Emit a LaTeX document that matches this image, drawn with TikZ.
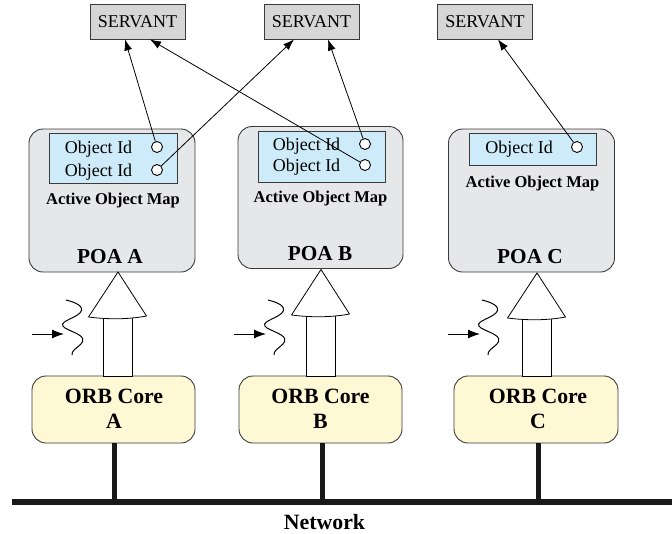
\documentclass[tikz,border=0pt]{standalone}
\usepackage{fontspec}
\setmainfont{Liberation Serif}
\usetikzlibrary{arrows.meta}

\definecolor{servantgray}{HTML}{D6D6D6}
\definecolor{poagray}{HTML}{E6E7E9}
\definecolor{mapblue}{HTML}{CDEBF8}
\definecolor{coreyellow}{HTML}{FFF8D4}
\definecolor{edgegray}{HTML}{3A3A3A}

\begin{document}
\begin{tikzpicture}[x=1pt, y=-1pt,
  servant/.style={draw=edgegray, fill=servantgray, line width=0.9pt,
    minimum width=95pt, minimum height=35pt, inner sep=0pt,
    font=\fontsize{18}{21}\selectfont},
  poa/.style={draw=edgegray, fill=poagray, line width=0.9pt, rounded corners=14pt,
    minimum width=166pt, minimum height=143pt, inner sep=0pt},
  objmap/.style={draw=edgegray, fill=mapblue, line width=1pt,
    minimum width=127pt, inner sep=0pt},
  orbcore/.style={draw=edgegray, fill=coreyellow, line width=0.9pt, rounded corners=14pt,
    minimum width=163pt, minimum height=67pt, inner sep=0pt},
  idtext/.style={anchor=base, inner sep=0pt, font=\fontsize{18}{21}\selectfont},
  maplabel/.style={anchor=base, inner sep=0pt, font=\bfseries\fontsize{16.5}{19}\selectfont},
  poalabel/.style={anchor=base, inner sep=0pt, font=\bfseries\fontsize{21.3}{24}\selectfont},
  corelabel/.style={anchor=base, inner sep=0pt, font=\bfseries\fontsize{21.8}{26}\selectfont},
  slot/.style={circle, draw=black, fill=white, line width=0.9pt,
    minimum size=11pt, inner sep=0pt},
  link/.style={line width=0.8pt, -{Latex[length=11pt,width=8pt]}},
  hollow/.style={draw=black, fill=white, line width=0.8pt},
  wire/.style={line width=5pt, draw=black!90},
  wavy/.style={line width=1pt},
  nudge/.style={line width=1pt, -{Latex[length=12pt,width=9pt]}}
]
\useasboundingbox (0,0) rectangle (672,533);

% servants
\node[servant] (s1) at (137.5,21.5) {SERVANT};
\node[servant] (s2) at (311.5,21.5) {SERVANT};
\node[servant] (s3) at (485,21.5) {SERVANT};

% POA containers
\node[poa] (poaA) at (112,200.5) {};
\node[poa, minimum height=142pt, minimum width=165pt] (poaB) at (320.5,197.5) {};
\node[poa] (poaC) at (531.5,200.5) {};

% active object maps
\node[objmap, minimum height=50pt, minimum width=128pt] (mapA) at (113,158) {};
\node[objmap, minimum height=51pt] (mapB) at (321.5,156.5) {};
\node[objmap, minimum height=32pt] (mapC) at (532.5,149) {};

\node[idtext] (idA1) at (98.5,153.5) {Object Id};
\node[idtext] (idA2) at (98.5,176.5) {Object Id};
\node[idtext] (idB1) at (306.5,150.5) {Object Id};
\node[idtext] (idB2) at (306.5,171.5) {Object Id};
\node[idtext] (idC1) at (519,153) {Object Id};

\node[slot] (cA1) at (157,147) {};
\node[slot] (cA2) at (157,170) {};
\node[slot] (cB1) at (365,144) {};
\node[slot] (cB2) at (365,165) {};
\node[slot] (cC1) at (577,147) {};

\node[maplabel] (amA) at (113,204.5) {Active Object Map};
\node[maplabel] (amB) at (320.5,202) {Active Object Map};
\node[maplabel] (amC) at (532.5,187.5) {Active Object Map};

\node[poalabel] (lA) at (110,263) {POA A};
\node[poalabel] (lB) at (320,260) {POA B};
\node[poalabel] (lC) at (530,263) {POA C};

% object id to servant links
\draw[link] (cA1) -- (s1.south -| 125,0);
\draw[link] (cB2) -- (s1.south -| 150,0);
\draw[link] (cA2) -- (s2.south -| 294,0);
\draw[link] (cB1) -- (s2.south -| 328,0);
\draw[link] (cC1) -- (s3.south -| 498,0);

% ORB cores
\node[orbcore] (coreA) at (113.5,409.5) {};
\node[orbcore] (coreB) at (320.5,409.5) {};
\node[orbcore, minimum width=164pt] (coreC) at (536,409.5) {};
\node[corelabel] (tA) at (114,403) {ORB Core};
\node[corelabel] (tA2) at (114,428) {A};
\node[corelabel] (tB) at (320.5,403) {ORB Core};
\node[corelabel] (tB2) at (320.5,428) {B};
\node[corelabel] (tC) at (538,403) {ORB Core};
\node[corelabel] (tC2) at (538,428) {C};

% hollow up arrows from cores to POAs
\foreach \cx/\ty/\by in {118/272/317, 321/269.5/315, 537/273/318} {
  \path[hollow] (\cx-14.5,\by) -- (\cx-14.5,376) -- (\cx+14.5,376) -- (\cx+14.5,\by);
  \draw[line width=0.8pt] (\cx-14.5,\by+1) -- (\cx-14.5,376) (\cx+14.5,\by) -- (\cx+14.5,376);
  \path[hollow] (\cx,\ty) -- (\cx+28.5,\by-1)
     .. controls (\cx+10,\by+2.5) and (\cx-10,\by+2.5) .. (\cx-29.5,\by) -- cycle;
}

% incoming requests
\foreach \dx in {0, 202, 416} {
  \draw[nudge] (32+\dx,334) -- (64+\dx,334);
  \draw[wavy] (66+\dx,300) .. controls (74+\dx,302) and (86+\dx,306) .. (80+\dx,313)
     .. controls (74+\dx,319) and (56+\dx,322) .. (65+\dx,328)
     .. controls (74+\dx,333) and (88+\dx,336) .. (81+\dx,344)
     .. controls (77+\dx,348) and (71+\dx,351) .. (72+\dx,355);
}

% network
\coordinate (netL) at (12,502);
\coordinate (netR) at (672,502);
\draw[line width=6.5pt, draw=black!90] (netL) -- (netR);
\draw[wire] (coreA.south -| 114,0) -- (114,502);
\draw[wire] (coreB.south -| 322,0) -- (322,502);
\draw[wire] (coreC.south -| 538,0) -- (538,502);
\node[corelabel] (net) at (324.5,529) {Network};
\end{tikzpicture}
\end{document}
